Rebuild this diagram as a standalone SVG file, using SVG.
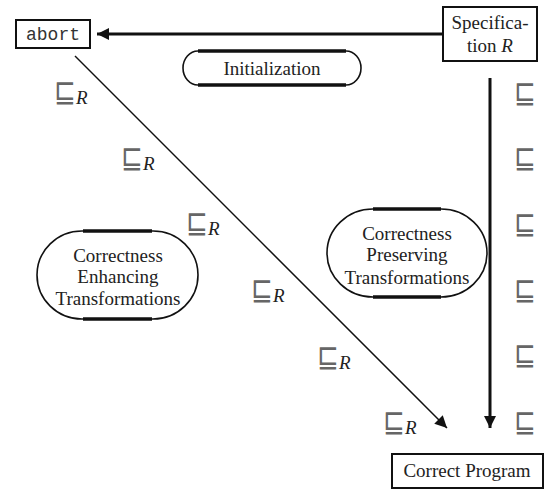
<svg xmlns="http://www.w3.org/2000/svg" width="544" height="489" viewBox="0 0 544 489">
<style>
.t{font-family:'Liberation Serif','Times New Roman',serif;font-size:19px;fill:#222;text-anchor:middle}
.m{font-family:'Liberation Mono','Courier New',monospace;font-size:18px;fill:#333;text-anchor:middle}
.sq{font-family:'DejaVu Sans',sans-serif;font-size:26px;fill:#666}
.r{font-family:'Liberation Serif','Times New Roman',serif;font-style:italic;font-size:19px;fill:#222}
.box{fill:#fff;stroke:#111;stroke-width:2}
.pill{fill:#fff;stroke:#111;stroke-width:1.6}
.flat{stroke:#111;stroke-width:3.5}
</style>
<defs>
<marker id="ahb" viewBox="0 0 10 10" refX="10" refY="5" markerWidth="14" markerHeight="12" orient="auto" markerUnits="userSpaceOnUse">
<path d="M0,0 L10,5 L0,10 z" fill="#111"/>
</marker>
</defs>
<g id="connectors">
<line x1="443" y1="34" x2="97" y2="34" stroke="#111" stroke-width="3" marker-end="url(#ahb)"/>
<line x1="490" y1="78" x2="490" y2="428" stroke="#111" stroke-width="3" marker-end="url(#ahb)"/>
<line x1="75" y1="56" x2="447" y2="428" stroke="#111" stroke-width="1.5" marker-end="url(#ahb)"/>
</g>
<g id="abort">
<rect class="box" x="16" y="20" width="74" height="28"/>
<text class="m" x="53" y="40">abort</text>
</g>
<g id="specification">
<rect class="box" x="443" y="7" width="94" height="54"/>
<text class="t" x="490" y="29">Specifica-</text>
<text class="t" x="490" y="52">tion <tspan font-style="italic">R</tspan></text>
</g>
<g id="initialization">
<rect class="pill" x="183" y="51" width="178" height="34" rx="15" ry="17"/>
<line class="flat" x1="198" y1="51" x2="346" y2="51"/>
<line class="flat" x1="198" y1="85" x2="346" y2="85"/>
<text class="t" x="272" y="75">Initialization</text>
</g>
<g id="enhancing">
<rect class="pill" x="37" y="231" width="161" height="88" rx="45" ry="44"/>
<line class="flat" x1="83" y1="231" x2="152" y2="231"/>
<line class="flat" x1="83" y1="319" x2="152" y2="319"/>
<text class="t" x="118" y="262">Correctness</text>
<text class="t" x="118" y="283">Enhancing</text>
<text class="t" x="118" y="305">Transformations</text>
</g>
<g id="preserving">
<rect class="pill" x="327" y="209" width="160" height="88" rx="46" ry="44"/>
<line class="flat" x1="373" y1="209" x2="441" y2="209"/>
<line class="flat" x1="373" y1="297" x2="441" y2="297"/>
<text class="t" x="407" y="240">Correctness</text>
<text class="t" x="407" y="261">Preserving</text>
<text class="t" x="407" y="284">Transformations</text>
</g>
<g id="correct-program">
<rect class="box" x="392" y="454" width="151" height="34"/>
<text class="t" x="467" y="477">Correct Program</text>
</g>
<g id="labels-left">
<text class="sq" transform="translate(54 102) scale(1 1.2)">⊑</text><text class="r" x="76" y="104">R</text>
<text class="sq" transform="translate(121 168) scale(1 1.2)">⊑</text><text class="r" x="143" y="170">R</text>
<text class="sq" transform="translate(186 233) scale(1 1.2)">⊑</text><text class="r" x="208" y="235">R</text>
<text class="sq" transform="translate(251 300) scale(1 1.2)">⊑</text><text class="r" x="273" y="302">R</text>
<text class="sq" transform="translate(317 367) scale(1 1.2)">⊑</text><text class="r" x="339" y="369">R</text>
<text class="sq" transform="translate(383 432) scale(1 1.2)">⊑</text><text class="r" x="405" y="434">R</text>
</g>
<g id="labels-right">
<text class="sq" transform="translate(514 103) scale(1 1.2)">⊑</text>
<text class="sq" transform="translate(514 168) scale(1 1.2)">⊑</text>
<text class="sq" transform="translate(514 234) scale(1 1.2)">⊑</text>
<text class="sq" transform="translate(514 300) scale(1 1.2)">⊑</text>
<text class="sq" transform="translate(514 365) scale(1 1.2)">⊑</text>
<text class="sq" transform="translate(514 432) scale(1 1.2)">⊑</text>
</g>
</svg>
